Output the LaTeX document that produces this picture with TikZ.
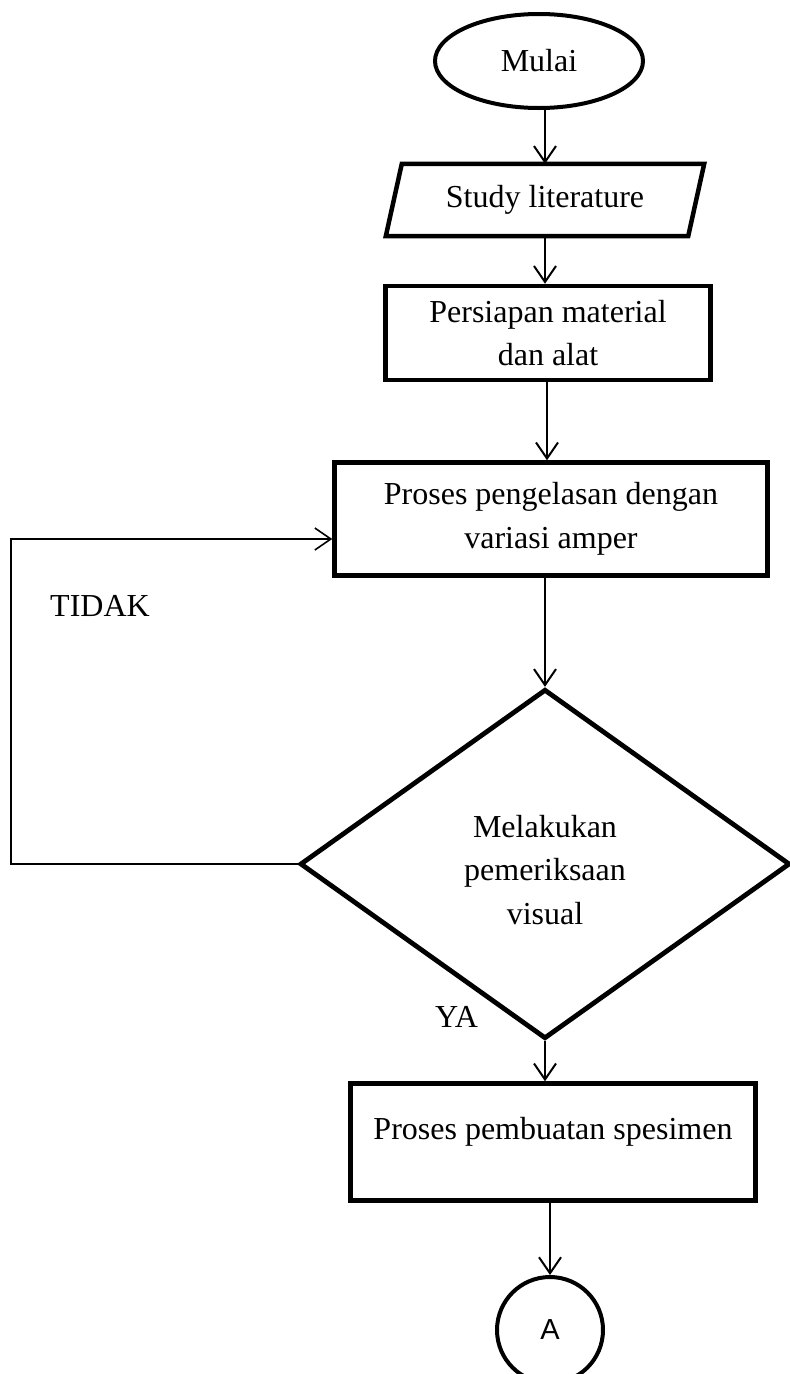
\documentclass[tikz,border=0pt]{standalone}
\usepackage{fontspec}
\setmainfont{Liberation Serif}
\newfontfamily\sansA{Liberation Sans}
\usetikzlibrary{arrows.meta,shapes.geometric}
\begin{document}
\begin{tikzpicture}[x=1pt,y=-1pt,
  every node/.style={font=\fontsize{32}{43.5}\selectfont, inner sep=0pt},
  boxthick/.style={draw, line width=4.5pt, align=center},
  arr/.style={line width=2pt, -{Straight Barb[length=16pt,width=22pt]}},
  loopline/.style={line width=1.6pt, -{Straight Barb[length=16pt,width=22pt]}},
  lbl/.style={anchor=west}]
\useasboundingbox (0,0) rectangle (790,1374);
% nodes
\node[ellipse, draw, line width=4pt, minimum width=208pt, minimum height=94pt] (mulai) at (539,61) {Mulai};
\node[minimum width=302pt, minimum height=72pt] (study) at (545,200) {Study literature};
\draw[line width=4.5pt, line join=miter]
  ([xshift=8pt]study.north west) -- ([xshift=8pt]study.north east) --
  ([xshift=-8pt]study.south east) -- ([xshift=-8pt]study.south west) -- cycle;
\node[boxthick, minimum width=325pt, minimum height=94pt] (persiapan) at (548,333)
  {Persiapan material\\dan alat};
\node[boxthick, minimum width=433pt, minimum height=113pt] (las) at (551,519)
  {Proses pengelasan dengan\\variasi amper};
\node[diamond, draw, line width=4.8pt, minimum width=490pt, minimum height=278pt, align=center] (cek) at (545,864)
  {\raisebox{-6pt}[\height][\depth]{\parbox{240pt}{\centering Melakukan\\pemeriksaan\\visual}}};
\node[boxthick, minimum width=405pt, minimum height=117pt] (spesimen) at (553,1142)
  {\raisebox{10pt}[\height][\depth]{Proses pembuatan spesimen}};
\node[circle, draw, line width=4pt, minimum size=106pt] (konektor) at (550,1330)
  {\sansA\fontsize{29}{30}\selectfont A};
\node[lbl] (tidak) at (50,606) {TIDAK};
\node[lbl] (ya) at (435,1017) {YA};
% connectors
\draw[arr] (mulai.south -| study.north) -- (study.north);
\draw[arr] (study.south) -- (study.south |- persiapan.north);
\draw[arr] (persiapan.south -| 547,0) -- (las.north -| 547,0);
\draw[arr] (cek.north |- las.south) -- (cek.north);
\draw[arr] (cek.south) -- (cek.south |- spesimen.north);
\draw[arr] (konektor.north |- spesimen.south) -- (konektor.north);
\coordinate (lp2) at (11,539);
\draw[loopline] (cek.west) -| (lp2) -- (lp2 -| las.west);
\end{tikzpicture}
\end{document}
